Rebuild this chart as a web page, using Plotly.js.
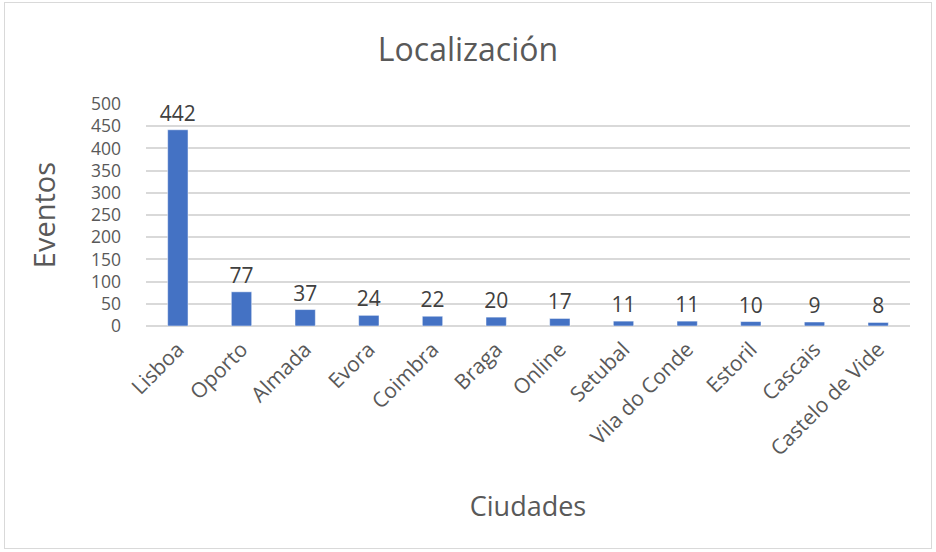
<!DOCTYPE html>
<html>
<head>
<meta charset="utf-8">
<script src="https://cdn.plot.ly/plotly-3.0.1.min.js"></script>
<style>
  body { margin: 0; background: #fff; }
  #chart { width: 936px; height: 552px; }
  #frame { position: absolute; left: 4px; top: 2px; width: 926px; height: 545px;
           border: 1px solid #d9d9d9; pointer-events: none; }
</style>
</head>
<body>
<div id="chart"></div>
<div id="frame"></div>
<script>
const cities = ['Lisboa', 'Oporto', 'Almada', 'Evora', 'Coimbra', 'Braga', 'Online',
                'Setubal', 'Vila do Conde', 'Estoril', 'Cascais', 'Castelo de Vide'];
const events = [442, 77, 37, 24, 22, 20, 17, 11, 11, 10, 9, 8];

const FONT = 'Open Sans, Noto Sans, sans-serif';
const GREY = '#595959';

Plotly.newPlot('chart', [{
  type: 'bar',
  x: cities,
  y: events,
  text: events.map(String),
  textposition: 'outside',
  constraintext: 'none',
  cliponaxis: false,
  textfont: { family: FONT, size: 21, color: '#404040' },
  marker: { color: '#4472c4', line: { color: '#ffffff', width: 0.5 } },
  width: 0.32,
}], {
  width: 936,
  height: 552,
  paper_bgcolor: '#ffffff',
  plot_bgcolor: '#ffffff',
  margin: { t: 104, b: 226, l: 146, r: 26 },
  font: { family: FONT, color: GREY },
  title: {
    text: 'Localización',
    font: { family: FONT, size: 32, color: GREY },
    x: 0.5, xanchor: 'center', y: 0.91, yanchor: 'middle',
  },
  xaxis: {
    tickangle: -45,
    tickfont: { family: FONT, size: 21, color: GREY },
    ticklabelstandoff: 6,
    showgrid: false,
    showline: false,
    zeroline: false,
    automargin: false,
    title: { text: 'Ciudades', font: { family: FONT, size: 27, color: GREY }, standoff: 36 },
  },
  yaxis: {
    range: [0, 500],
    dtick: 50,
    tickfont: { family: FONT, size: 17.5, color: GREY },
    gridcolor: '#d9d9d9',
    gridwidth: 1.5,
    zeroline: true,
    zerolinecolor: '#d9d9d9',
    zerolinewidth: 1.5,
    showline: false,
    automargin: false,
    ticklabelstandoff: 24,
    title: { text: 'Eventos', font: { family: FONT, size: 29, color: GREY }, standoff: 26 },
  },
  showlegend: false,
}, { displayModeBar: false, responsive: false });
</script>
</body>
</html>
